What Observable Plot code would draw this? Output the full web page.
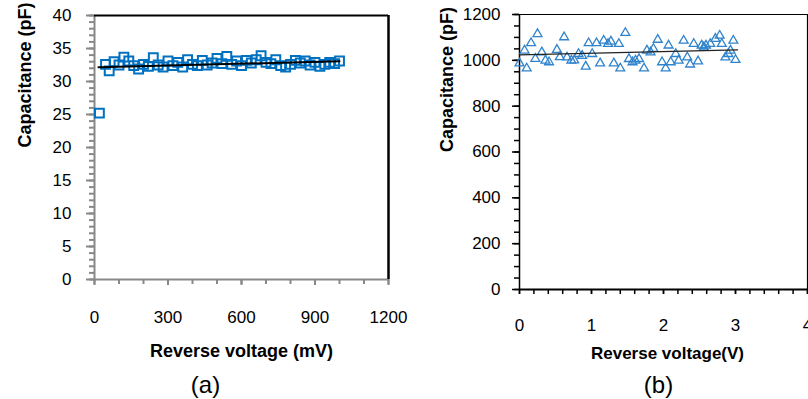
<!DOCTYPE html>
<html>
<head>
<meta charset="utf-8">
<script src="https://cdn.jsdelivr.net/npm/d3@7"></script>
<script src="https://cdn.jsdelivr.net/npm/@observablehq/plot@0.6"></script>
<style>
  html, body { margin: 0; padding: 0; background: #fff; }
  #wrap { position: relative; width: 808px; height: 399px; overflow: hidden; }
  #wrap svg { position: absolute; top: 0; }
</style>
</head>
<body>
<div id="wrap"></div>
<script>
// ---------- Panel (a) data ----------
const voltageA = [20,45,60,80,100,120,140,160,180,200,220,240,260,280,300,320,340,360,380,400,420,440,460,480,500,520,540,560,580,600,620,640,660,680,700,720,740,760,780,800,820,840,860,880,900,920,940,960,980,1000];
const capA     = [25.2,32.6,31.6,33.0,32.5,33.7,33.1,32.4,31.9,32.6,32.3,33.6,32.5,32.2,33.1,32.4,32.9,32.2,33.3,32.6,32.4,33.2,32.5,32.8,33.5,32.7,33.8,32.6,33.1,32.4,33.2,32.8,33.3,33.9,32.9,32.7,33.3,32.4,32.2,32.6,33.2,32.8,33.1,32.5,32.9,32.3,32.6,32.9,32.7,33.1];
const trendVoltageA = [16, 1000];
const trendCapA     = [32.15, 33.07];
const xTicksA = [0, 300, 600, 900, 1200];
const xMinorA = [0,100,200,300,400,500,600,700,800,900,1000,1100,1200];
const yTicksA = [0, 5, 10, 15, 20, 25, 30, 35, 40];
const yMinorA = d3.range(0, 41, 1);
const xLabelA = "Reverse voltage (mV)";
const yLabelA = "Capacitance (pF)";
const captionA = "(a)";

// ---------- Panel (b) data ----------
const voltageB = [0,0.07,0.1,0.16,0.25,0.22,0.31,0.36,0.41,0.52,0.56,0.62,0.66,0.72,0.76,0.82,0.87,0.92,0.96,1.01,1.07,1.12,1.17,1.23,1.27,1.31,1.38,1.40,1.47,1.52,1.57,1.61,1.66,1.73,1.77,1.82,1.86,1.92,1.98,2.03,2.07,2.1,2.17,2.21,2.28,2.33,2.37,2.42,2.48,2.53,2.56,2.59,2.65,2.72,2.78,2.81,2.86,2.9,2.93,2.97,3.0];
const capB     = [987,1043,965,1075,1115,1007,1035,999,992,1046,1014,1101,1013,999,1000,1028,1020,973,1075,1028,1075,987,1086,1072,1082,987,1072,965,1120,1006,992,999,1006,965,1043,1035,1050,1090,992,965,1065,992,1028,999,1086,1013,982,1072,996,1065,1057,1065,1072,1094,1108,1072,1013,1028,1043,1086,1002];
const trendVoltageB = [0, 3.03];
const trendCapB     = [1024, 1046];
const xTicksB = [0, 1, 2, 3, 4];
const xMinorB = d3.range(0, 21, 1).map(i => i / 5);
const yTicksB = [0, 200, 400, 600, 800, 1000, 1200];
const yMinorB = d3.range(0, 1201, 50);
const xLabelB = "Reverse voltage(V)";
const yLabelB = "Capacitance (pF)";
const captionB = "(b)";

const pointsA = voltageA.map((v, i) => ({v, c: capA[i]}));
const trendA = trendVoltageA.map((v, i) => ({v, c: trendCapA[i]}));
const pointsB = voltageB.map((v, i) => ({v, c: capB[i]}));
const trendB = trendVoltageB.map((v, i) => ({v, c: trendCapB[i]}));

const font = "'Liberation Sans', Arial, sans-serif";
const baseStyle = {background: "transparent", overflow: "visible", fontFamily: font, fontSize: "17px", color: "#000"};
const plain = d => String(d);

const plotA = Plot.plot({
  width: 400, height: 399,
  marginLeft: 94, marginRight: 12, marginTop: 15, marginBottom: 120,
  x: {domain: [0, 1200]},
  y: {domain: [0, 40]},
  style: baseStyle,
  marks: [
    Plot.axisY({ticks: yMinorA, tickSize: 5, stroke: "#888", strokeWidth: 2, fill: "none", label: null}),
    Plot.axisY({ticks: yTicksA, tickSize: 8, tickPadding: 15, stroke: "#888", strokeWidth: 2, fill: "#000", label: null, tickFormat: plain}),
    Plot.axisX({ticks: xMinorA, tickSize: 5, stroke: "#888", strokeWidth: 2, fill: "none", label: null}),
    Plot.axisX({ticks: xTicksA, tickSize: 6, tickPadding: 25, stroke: "#888", strokeWidth: 2, fill: "#000", label: null, tickFormat: plain}),
    Plot.ruleY([0], {stroke: "#888", strokeWidth: 2}),
    Plot.ruleX([0], {stroke: "#888", strokeWidth: 2}),
    Plot.ruleY([40], {stroke: "#000", strokeWidth: 2}),
    Plot.ruleX([1200], {stroke: "#000", strokeWidth: 2.5}),
    Plot.dot(pointsA, {x: "v", y: "c", symbol: "square", r: 5, stroke: "#0070C0", strokeWidth: 2, fill: "none"}),
    Plot.line(trendA, {x: "v", y: "c", stroke: "#000", strokeWidth: 2}),
    Plot.text([xLabelA], {frameAnchor: "bottom", dy: 72, lineAnchor: "middle", fontWeight: "bold", fontSize: 18, text: d => d}),
    Plot.text([yLabelA], {frameAnchor: "left", dx: -69, rotate: -90, lineAnchor: "middle", fontWeight: "bold", fontSize: 18, text: d => d}),
    Plot.text([captionA], {frameAnchor: "bottom", dx: -36, dy: 106, lineAnchor: "middle", fontSize: 24, text: d => d})
  ]
});

const plotB = Plot.plot({
  width: 408, height: 399,
  marginLeft: 119, marginRight: 1, marginTop: 14, marginBottom: 110,
  x: {domain: [0, 4]},
  y: {domain: [0, 1200]},
  style: baseStyle,
  marks: [
    Plot.axisY({ticks: yMinorB, tickSize: 5, stroke: "#000", strokeWidth: 1.5, fill: "none", label: null}),
    Plot.axisY({ticks: yTicksB, tickSize: 7, tickPadding: 12, stroke: "#000", strokeWidth: 1.5, fill: "#000", label: null, tickFormat: plain}),
    Plot.axisX({ticks: xMinorB, tickSize: 5, stroke: "#000", strokeWidth: 1.5, fill: "none", label: null}),
    Plot.axisX({ticks: xTicksB, tickSize: 5, tickPadding: 24, stroke: "#000", strokeWidth: 1.5, fill: "#000", label: null, tickFormat: plain}),
    Plot.ruleY([0], {stroke: "#000", strokeWidth: 2}),
    Plot.ruleX([0], {stroke: "#000", strokeWidth: 1.5}),
    Plot.ruleY([1200], {stroke: "#000", strokeWidth: 1.2}),
    Plot.ruleX([4], {stroke: "#000", strokeWidth: 1.2}),
    Plot.dot(pointsB, {x: "v", y: "c", symbol: "triangle", r: 3.3, stroke: "#2F83CC", strokeWidth: 1.3, fill: "none"}),
    Plot.line(trendB, {x: "v", y: "c", stroke: "#222", strokeWidth: 1.3}),
    Plot.text([xLabelB], {frameAnchor: "bottom", dy: 64, dx: 4, lineAnchor: "middle", fontWeight: "bold", fontSize: 17, text: d => d}),
    Plot.text([yLabelB], {frameAnchor: "left", dx: -72, rotate: -90, lineAnchor: "middle", fontWeight: "bold", fontSize: 18, text: d => d}),
    Plot.text([captionB], {frameAnchor: "bottom", dx: -5, dy: 96, lineAnchor: "middle", fontSize: 24, text: d => d})
  ]
});

plotA.style.left = "0px";
plotB.style.left = "400px";
const wrap = document.getElementById("wrap");
wrap.appendChild(plotA);
wrap.appendChild(plotB);
</script>
</body>
</html>
